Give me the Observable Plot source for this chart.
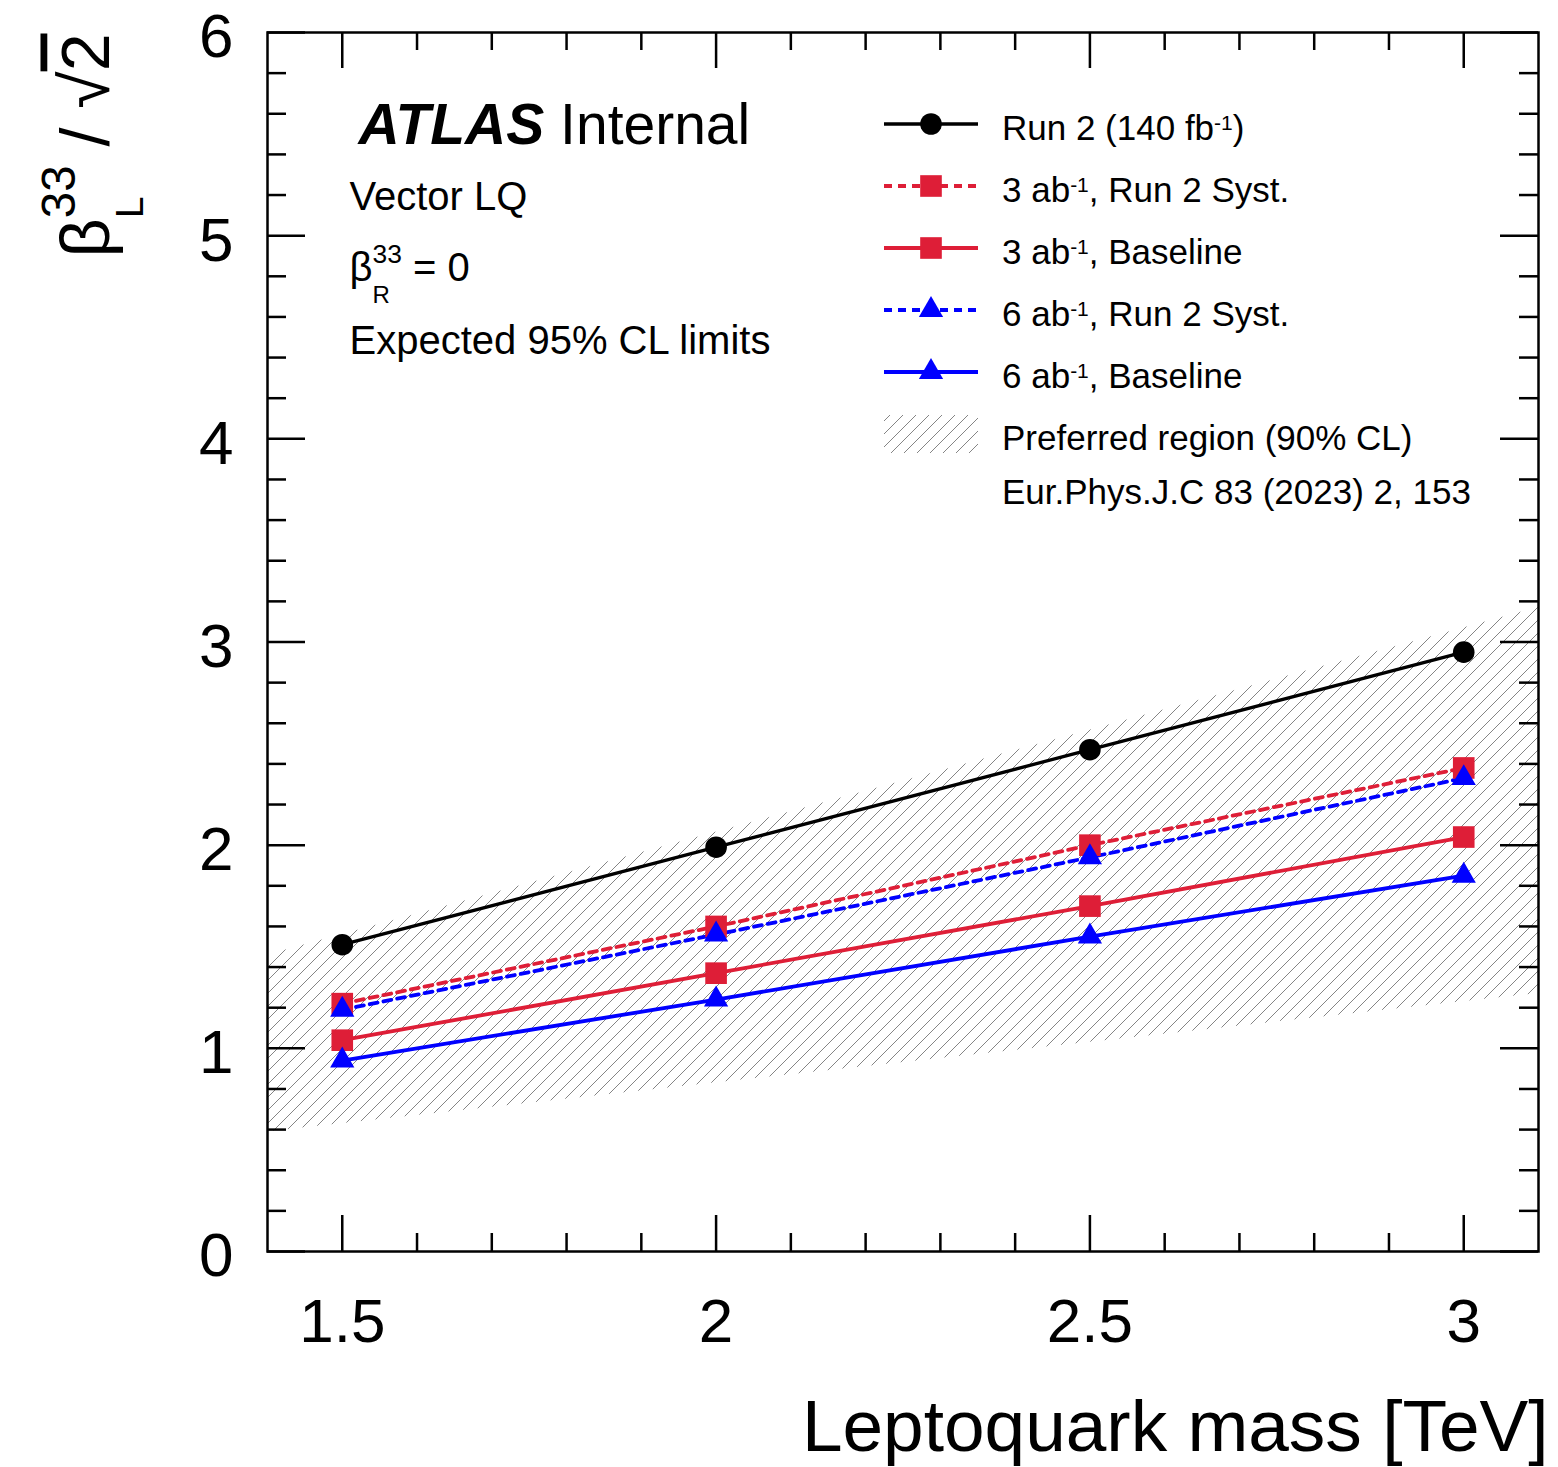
<!DOCTYPE html>
<html><head><meta charset="utf-8">
<script src="https://cdn.jsdelivr.net/npm/d3@7"></script>
<script src="https://cdn.jsdelivr.net/npm/@observablehq/plot@0.6"></script>
<style>body{margin:0;background:#fff}</style>
</head><body><div id="chart"></div>
<script>
// ---------------- data ----------------
const masses = [1.5, 2.0, 2.5, 3.0];
const run2    = [1.51, 1.99, 2.47, 2.95];
const ab3Syst = [1.22, 1.60, 2.00, 2.38];
const ab3Base = [1.04, 1.37, 1.70, 2.04];
const ab6Syst = [1.19, 1.56, 1.94, 2.33];
const ab6Base = [0.94, 1.24, 1.55, 1.85];
const bandMass = [1.4, 3.1];
const bandLow  = [0.59, 1.27];
const bandHigh = [1.46, 3.17];
const seriesLabels = ["Run 2 (140 fb^{-1})", "3 ab^{-1}, Run 2 Syst.", "3 ab^{-1}, Baseline", "6 ab^{-1}, Run 2 Syst.", "6 ab^{-1}, Baseline"];
const bandLabel = "Preferred region (90% CL)";
const refLabel = "Eur.Phys.J.C 83 (2023) 2, 153";
const xMajor = [1.5, 2, 2.5, 3];
const xMinor = [1.6, 1.7, 1.8, 1.9, 2.1, 2.2, 2.3, 2.4, 2.6, 2.7, 2.8, 2.9];
const yMajor = [0, 1, 2, 3, 4, 5, 6];
const yMinor = d3.range(1, 30).map(k => k / 5).filter(v => Math.abs(v - Math.round(v)) > 1e-9);

// ---------------- styles ----------------
const RED = "#de1e37", BLUE = "#0000ff", BLACK = "#000000";
const DASH = "8,6";
const styles = [
  {color: BLACK, dash: null, symbol: "circle", r: 10.8, w: 3.3},
  {color: RED, dash: DASH, symbol: "square", r: 12.2, w: 3.8},
  {color: RED, dash: null, symbol: "square", r: 12.2, w: 3.8},
  {color: BLUE, dash: DASH, symbol: "triangle", r: 9.0, w: 3.8},
  {color: BLUE, dash: null, symbol: "triangle", r: 9.0, w: 3.8}
];
const seriesValues = [run2, ab3Syst, ab3Base, ab6Syst, ab6Base];
const rowsOf = arr => masses.map((m, i) => ({mass: m, value: arr[i]}));
const band = bandMass.map((m, i) => ({mass: m, lo: bandLow[i], hi: bandHigh[i]}));

const W = 1558, H = 1467, mL = 267, mR = 20, mT = 32, mB = 216;
const FW = W - mL - mR, FH = H - mT - mB;
const FONT = "'Liberation Sans', Arial, Helvetica, sans-serif";

const defsMark = () => {
  const defs = d3.create("svg:defs");
  const s = 13;
  const p = defs.append("pattern").attr("id", "hatch").attr("patternUnits", "userSpaceOnUse")
    .attr("width", s).attr("height", s);
  p.append("path").attr("d", `M-3,3 L3,-3 M0,${s} L${s},0 M${s - 3},${s + 3} L${s + 3},${s - 3}`)
    .attr("stroke", "#858585").attr("stroke-width", 1).attr("fill", "none");
  return defs.node();
};

const drawOrder = [1, 3, 2, 4, 0];
const lineMarks = drawOrder.map(k => Plot.line(rowsOf(seriesValues[k]), {
  x: "mass", y: "value", stroke: styles[k].color, strokeWidth: styles[k].w,
  strokeDasharray: styles[k].dash ?? undefined
}));
const dotMarks = [1, 2, 3, 4, 0].map(k => Plot.dot(rowsOf(seriesValues[k]), {
  x: "mass", y: "value", symbol: styles[k].symbol, r: styles[k].r,
  fill: styles[k].color, stroke: "none"
}));

const tickStyle = {stroke: "black", strokeWidth: 2.5};
const plot = Plot.plot({
  width: W, height: H,
  marginLeft: mL, marginRight: mR, marginTop: mT, marginBottom: mB,
  x: {domain: [1.4, 3.1]},
  y: {domain: [0, 6]},
  style: {fontFamily: FONT, background: "white", color: "black"},
  marks: [
    defsMark,
    Plot.areaY(band, {x: "mass", y1: "lo", y2: "hi", fill: "url(#hatch)"}),
    ...lineMarks,
    ...dotMarks,
    // inner ticks (ROOT style, all four sides)
    Plot.ruleX(xMajor, {...tickStyle, insetTop: FH - 36}),
    Plot.ruleX(xMajor, {...tickStyle, insetBottom: FH - 36}),
    Plot.ruleX(xMinor, {...tickStyle, insetTop: FH - 18}),
    Plot.ruleX(xMinor, {...tickStyle, insetBottom: FH - 18}),
    Plot.ruleY(yMajor, {...tickStyle, insetRight: FW - 38}),
    Plot.ruleY(yMajor, {...tickStyle, insetLeft: FW - 38}),
    Plot.ruleY(yMinor, {...tickStyle, insetRight: FW - 19}),
    Plot.ruleY(yMinor, {...tickStyle, insetLeft: FW - 19}),
    Plot.frame({stroke: "black", strokeWidth: 2.5}),
    Plot.axisX(xMajor, {tickSize: 0, tickPadding: 46, fontSize: 62, label: null, tickFormat: d => String(d)}),
    Plot.axisY(yMajor, {tickSize: 0, tickPadding: 34, fontSize: 62, dy: 5, label: null, tickFormat: d => String(d)}),
    // titles and annotations
    Plot.text(["Leptoquark mass [TeV]"], {frameAnchor: "bottom-right", textAnchor: "end", lineAnchor: "bottom", dx: 10, dy: 199, fontSize: 73}),
    Plot.text(["β^{33}_{L} / √~{2}"], {frameAnchor: "top-left", textAnchor: "end", lineAnchor: "bottom", rotate: -90, dx: -159, dy: 1, fontSize: 68}),
    Plot.text(["*{ATLAS} Internal"], {frameAnchor: "top-left", textAnchor: "start", lineAnchor: "bottom", dx: 91, dy: 111, fontSize: 57}),
    Plot.text(["Vector LQ"], {frameAnchor: "top-left", textAnchor: "start", lineAnchor: "bottom", dx: 82, dy: 177, fontSize: 40}),
    Plot.text(["β^{33}_{R} = 0"], {frameAnchor: "top-left", textAnchor: "start", lineAnchor: "bottom", dx: 82, dy: 248, fontSize: 40}),
    Plot.text(["Expected 95% CL limits"], {frameAnchor: "top-left", textAnchor: "start", lineAnchor: "bottom", dx: 82, dy: 321, fontSize: 40})
  ]
});
document.getElementById("chart").appendChild(plot);

// ---------------- legend ----------------
const svg = d3.select(plot);
const lg = svg.append("g").attr("transform", "translate(884,124)")
  .attr("font-family", FONT).attr("font-size", 35).attr("text-anchor", "start").attr("fill", "black");
const symMap = {circle: d3.symbolCircle, square: d3.symbolSquare, triangle: d3.symbolTriangle};
seriesLabels.forEach((lab, k) => {
  const st = styles[k];
  const g = lg.append("g").attr("transform", `translate(0,${k * 62})`);
  g.append("line").attr("x1", 0).attr("x2", 94).attr("y1", 0).attr("y2", 0)
    .attr("stroke", st.color).attr("stroke-width", st.w)
    .attr("stroke-dasharray", st.dash);
  g.append("path").attr("transform", "translate(47,0)")
    .attr("d", d3.symbol(symMap[st.symbol], st.r * st.r * Math.PI)())
    .attr("fill", st.color);
  g.append("text").attr("x", 118).attr("y", 16).text(lab);
});
const gb = lg.append("g").attr("transform", `translate(0,${5 * 62})`);
gb.append("rect").attr("x", 0).attr("y", -19).attr("width", 94).attr("height", 38).attr("fill", "url(#hatch)");
gb.append("text").attr("x", 118).attr("y", 16).text(bandLabel);
lg.append("text").attr("x", 118).attr("y", 6 * 62 + 8).text(refLabel);

// ---------------- rich text (super/subscripts) ----------------
function richify(textEl, o) {
  const raw = textEl.textContent;
  if (!/[\^_*~]\{/.test(raw)) return;
  const F = parseFloat(getComputedStyle(textEl).fontSize);
  const parts = raw.split(/(\^\{[^}]*\}|_\{[^}]*\}|\*\{[^}]*\}|~\{[^}]*\})/).filter(s => s !== "");
  while (textEl.firstChild) textEl.removeChild(textEl.firstChild);
  const ns = "http://www.w3.org/2000/svg";
  let cur = 0, lastSupW = 0, pendingDx = 0, prevType = null;
  for (const p of parts) {
    const t = document.createElementNS(ns, "tspan");
    let type = "plain", content = p;
    if (/^[\^_*~]\{/.test(p)) { type = p[0]; content = p.slice(2, -1); }
    let shift = 0;
    if (type === "^") { t.setAttribute("font-size", o.supSize * F); shift = -o.supRaise * F; }
    else if (type === "_") { t.setAttribute("font-size", o.subSize * F); shift = o.subLower * F; }
    else if (type === "*") { t.setAttribute("font-weight", "bold"); t.setAttribute("font-style", "italic"); }
    else if (type === "~") { t.setAttribute("text-decoration", "overline"); }
    let dx = pendingDx; pendingDx = 0;
    if (type === "_" && prevType === "^") dx -= lastSupW;
    if (dx) t.setAttribute("dx", dx);
    if (shift - cur) t.setAttribute("dy", shift - cur);
    cur = shift;
    t.textContent = content;
    textEl.appendChild(t);
    const w = t.getComputedTextLength();
    if (type === "^") lastSupW = w;
    if (type === "_" && prevType === "^") pendingDx = Math.max(0, lastSupW - w);
    prevType = type;
  }
}
svg.selectAll("text").each(function () {
  const F = parseFloat(getComputedStyle(this).fontSize);
  let o;
  if (F >= 60) o = {supSize: 0.7, supRaise: 0.49, subSize: 0.58, subLower: 0.5};
  else if (F >= 38) o = {supSize: 0.66, supRaise: 0.45, subSize: 0.6, subLower: 0.55};
  else o = {supSize: 0.6, supRaise: 0.3, subSize: 0.55, subLower: 0.3};
  richify(this, o);
});
</script>
</body></html>
